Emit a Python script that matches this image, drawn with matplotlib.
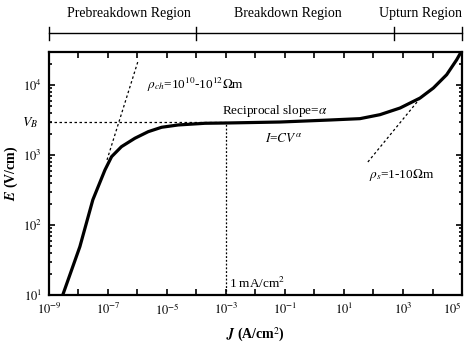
import numpy as np
import matplotlib.pyplot as plt
from matplotlib.ticker import FixedLocator, FixedFormatter, LogLocator, NullFormatter

plt.rcParams['font.family'] = ['Liberation Serif', 'DejaVu Serif']
plt.rcParams['mathtext.fontset'] = 'stix'

# E-J characteristic (log10 values)
logJ = [-8.53, -7.95, -7.51, -7.10, -6.875, -6.54, -6.085, -5.634, -5.18, -4.617,
        -3.71, -3.0, -1.17, 0.53, 1.54, 2.22, 2.90, 3.58, 4.03, 4.48, 4.82, 4.93, 5.0]
logE = [1.0, 1.69, 2.36, 2.786, 2.976, 3.119, 3.239, 3.333, 3.396, 3.429,
        3.453, 3.457, 3.471, 3.50, 3.519, 3.576, 3.671, 3.814, 3.957, 4.147, 4.361, 4.443, 4.48]
J = [10**v for v in logJ]
E = [10**v for v in logE]

# tangent lines
tan1_J = [10**-7.03, 10**-5.98]
tan1_E = [10**2.93, 10**4.34]
tan2_J = [10**1.81, 10**3.58]
tan2_E = [10**2.90, 10**3.81]

V_B = 2950
J_1mA = 1e-3

# region bracket
region_edges = [1e-9, 1e-4, 5e2, 1e5]
region_names = ["Prebreakdown Region", "Breakdown Region", "Upturn Region"]
region_centers = [10**-6.3, 10**-0.9, 10**3.6]

xtick_vals = [10.0**k for k in range(-9, 6)]
xtick_labels = [r"$10^{%d}$" % k if k % 2 else "" for k in range(-9, 6)]
ytick_vals = [1e1, 1e2, 1e3, 1e4]
ytick_labels = [r"$10^{1}$", r"$10^{2}$", r"$10^{3}$", r"$10^{4}$"]

fig = plt.figure(figsize=(4.7, 3.45), dpi=100)
ax = fig.add_axes([0.104, 0.145, 0.879, 0.704])

ax.plot(J, E, color='black', lw=2.3, solid_capstyle='round', solid_joinstyle='round')
ax.plot(tan1_J, tan1_E, color='black', lw=0.9, ls=(0, (2, 2)))
ax.plot(tan2_J, tan2_E, color='black', lw=0.9, ls=(0, (2, 2)))
ax.plot([1e-9, J_1mA], [V_B, V_B], color='black', lw=0.9, ls=(0, (2, 2)))
ax.plot([J_1mA, J_1mA], [10, V_B], color='black', lw=0.9, ls=(0, (1.5, 1.5)))

ax.set_xscale('log')
ax.set_yscale('log')
ax.set_xlim(1e-9, 1e5)
ax.set_ylim(10, 10**4.47)

ax.xaxis.set_major_locator(FixedLocator(xtick_vals))
ax.xaxis.set_major_formatter(FixedFormatter(xtick_labels[:-1] + [""]))
ax.xaxis.set_minor_locator(FixedLocator([]))
ax.yaxis.set_major_locator(FixedLocator(ytick_vals))
ax.yaxis.set_major_formatter(FixedFormatter(ytick_labels))
ax.yaxis.set_minor_locator(LogLocator(base=10, subs=np.arange(2, 10)))
ax.yaxis.set_minor_formatter(NullFormatter())
ax.tick_params(which='both', direction='in', top=True, right=True, width=1.2)
ax.tick_params(which='major', length=4, labelsize=9, pad=5)
ax.tick_params(which='minor', length=2)
for lab in ax.get_xticklabels() + ax.get_yticklabels():
    lab.set_fontweight('bold')
for sp in ax.spines.values():
    sp.set_linewidth(1.6)

# last x tick label sits at the figure edge, nudge it inside
ax.text(1.0, -0.024, xtick_labels[-1], transform=ax.transAxes, ha='right', va='top',
        fontsize=9, fontweight='bold')

# V_B label on the y axis
ax.text(-0.025, V_B, r"$V_B$", transform=ax.get_yaxis_transform(),
        ha='right', va='center', fontsize=10)

ax.set_xlabel(r"$\boldsymbol{J}$ (A/cm$^2$)", fontsize=10, fontweight='bold', labelpad=6)
ax.set_ylabel(r"$\boldsymbol{E}$ (V/cm)", fontsize=10, fontweight='bold', labelpad=2)

# annotations
ax.text(10**-5.68, 10**4.0, r"$\rho_{ch}$=10$^{10}$-10$^{12}$$\Omega$m", fontsize=9.5,
        ha='left', va='center')
ax.text(10**-3.14, 10**3.63, r"Reciprocal slope=$\alpha$", fontsize=9.5, ha='left', va='center')
ax.text(10**-1.68, 10**3.24, r"$I$=$CV^{\alpha}$", fontsize=9.5, ha='left', va='center')
ax.text(10**1.85, 10**2.71, r"$\rho_s$=1-10$\Omega$m", fontsize=9.5, ha='left', va='center')
ax.text(10**-2.9, 10**1.17, r"1 mA/cm$^2$", fontsize=9.5, ha='left', va='center')

# region bracket above the axes
tr = ax.get_xaxis_transform()
ax.plot([region_edges[0], region_edges[-1]], [1.078, 1.078], color='black', lw=1.0,
        transform=tr, clip_on=False)
for xe in region_edges:
    ax.plot([xe, xe], [1.05, 1.105], color='black', lw=1.0, transform=tr, clip_on=False)
for name, xc in zip(region_names, region_centers):
    ax.text(xc, 1.16, name, transform=tr, ha='center', va='center', fontsize=10)

fig.savefig("out.png", dpi=100)
